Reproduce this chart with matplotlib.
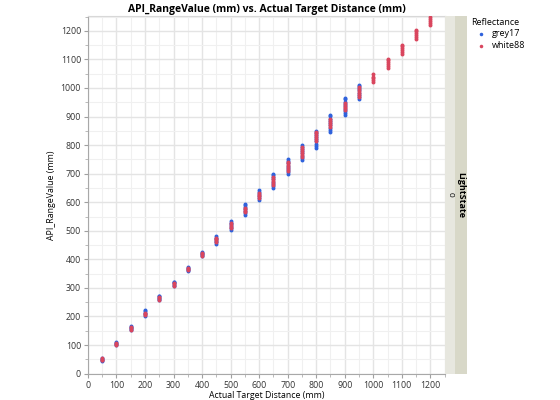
import matplotlib
matplotlib.use('Agg')
import matplotlib.pyplot as plt
from matplotlib.ticker import MultipleLocator
from matplotlib.patches import Rectangle

plt.rcParams['font.family'] = ['Open Sans', 'DejaVu Sans']

# readings per target distance (mm)
distances = [50, 100, 150, 200, 250, 300, 350, 400, 450, 500, 550, 600,
             650, 700, 750, 800, 850, 900, 950, 1000, 1050, 1100, 1150, 1200]

grey17 = {
    50: [45, 49, 52, 55],
    100: [100, 104, 107, 110],
    150: [152, 156, 160, 163, 166],
    200: [203, 208, 213, 218, 222],
    250: [256, 261, 266, 270, 272],
    300: [306, 311, 316, 320, 322],
    350: [358, 362, 366, 370, 373],
    400: [410, 414, 418, 421, 424],
    450: [453, 459, 465, 471, 476, 481],
    500: [502, 509, 516, 523, 529, 535],
    550: [556, 563, 570, 577, 584, 590, 595],
    600: [609, 616, 623, 630, 636, 642],
    650: [649, 656, 664, 672, 680, 688, 695, 699],
    700: [699, 706, 713, 720, 728, 736, 744, 751],
    750: [748, 755, 763, 771, 779, 787, 795, 802],
    800: [789, 797, 805, 813, 821, 829, 837, 844, 849],
    850: [845, 853, 861, 869, 877, 885, 893, 901, 907],
    900: [904, 912, 920, 928, 936, 944, 952, 960, 966],
    950: [961, 968, 976, 984, 992, 1000, 1007, 1012],
}

white88 = {
    50: [46, 49, 53],
    100: [101, 105, 108],
    150: [154, 158, 162],
    200: [205, 209, 213],
    250: [258, 263, 268],
    300: [308, 313, 318],
    350: [362, 366, 370],
    400: [413, 418, 422],
    450: [462, 467, 472, 476],
    500: [510, 515, 521, 527],
    550: [565, 570, 575, 580],
    600: [615, 621, 627, 633],
    650: [660, 667, 674, 681, 689],
    700: [710, 717, 724, 731, 738, 742],
    750: [759, 766, 773, 780, 787, 794],
    800: [814, 821, 828, 835, 842, 845],
    850: [864, 871, 878, 885, 893],
    900: [923, 929, 935, 941, 946],
    950: [968, 975, 982, 989, 996, 1003],
    1000: [1022, 1028, 1034, 1040, 1048],
    1050: [1069, 1076, 1083, 1090, 1097, 1100],
    1100: [1119, 1126, 1133, 1140, 1147, 1150],
    1150: [1170, 1177, 1184, 1191, 1198, 1202],
    1200: [1220, 1227, 1234, 1241, 1248],
}

blue = '#2f62dc'
red = '#d9465e'

fig = plt.figure(figsize=(5.6, 4.0), dpi=100)
ax = fig.add_axes([0.157, 0.066, 0.638, 0.894])

gx = [d for d in distances if d in grey17 for _ in grey17[d]]
gy = [v for d in distances if d in grey17 for v in grey17[d]]
wx = [d for d in distances if d in white88 for _ in white88[d]]
wy = [v for d in distances if d in white88 for v in white88[d]]

ax.scatter(gx, gy, s=8, color=blue, linewidths=0, label='grey17', zorder=3)
ax.scatter(wx, wy, s=8, color=red, linewidths=0, label='white88', zorder=4)

ax.set_xlim(0, 1252)
ax.set_ylim(0, 1252)
ax.xaxis.set_major_locator(MultipleLocator(100))
ax.xaxis.set_minor_locator(MultipleLocator(50))
ax.yaxis.set_major_locator(MultipleLocator(100))
ax.yaxis.set_minor_locator(MultipleLocator(50))
ax.grid(which='major', color='#e4e4e4', linewidth=1.0, zorder=0)
ax.grid(which='minor', color='#f0f0f0', linewidth=0.8, zorder=0)
ax.set_axisbelow(True)

ax.tick_params(which='major', labelsize=6.3, length=3, color='#a0a0a0', labelcolor='#333333', pad=2)
ax.tick_params(which='minor', length=2, color='#b0b0b0')
for side in ['top', 'right']:
    ax.spines[side].set_color('#d8d8d8')
for side in ['left', 'bottom']:
    ax.spines[side].set_color('#a8a8a8')

ax.set_title('API_RangeValue (mm) vs. Actual Target Distance (mm)', fontsize=7.5,
             fontweight='bold', pad=3)
ax.set_xlabel('Actual Target Distance (mm)', fontsize=6.3, labelpad=1)
ax.set_ylabel('API_RangeValue (mm)', fontsize=6.3, labelpad=3)

# group strip on the right
fig.patches.append(Rectangle((445 / 560, 0.066), 10 / 560, 0.894,
                             transform=fig.transFigure, facecolor='#e7e7df',
                             edgecolor='none'))
fig.patches.append(Rectangle((455 / 560, 0.066), 12 / 560, 0.894,
                             transform=fig.transFigure, facecolor='#d8d8c8',
                             edgecolor='none'))
fig.text(450 / 560, 0.513, '0', rotation=-90, fontsize=6, ha='center', va='center')
fig.text(461 / 560, 0.513, 'LightState', rotation=-90, fontsize=6.5,
         fontweight='bold', ha='center', va='center')

leg = fig.legend(loc='upper left', bbox_to_anchor=(468 / 560, 0.965), title='Reflectance',
                 fontsize=6.5, title_fontsize=6.5, frameon=False, markerscale=0.9,
                 handletextpad=0.3, borderaxespad=0, labelspacing=0.3)
leg._legend_box.align = 'left'

fig.savefig('out.png', dpi=100)
